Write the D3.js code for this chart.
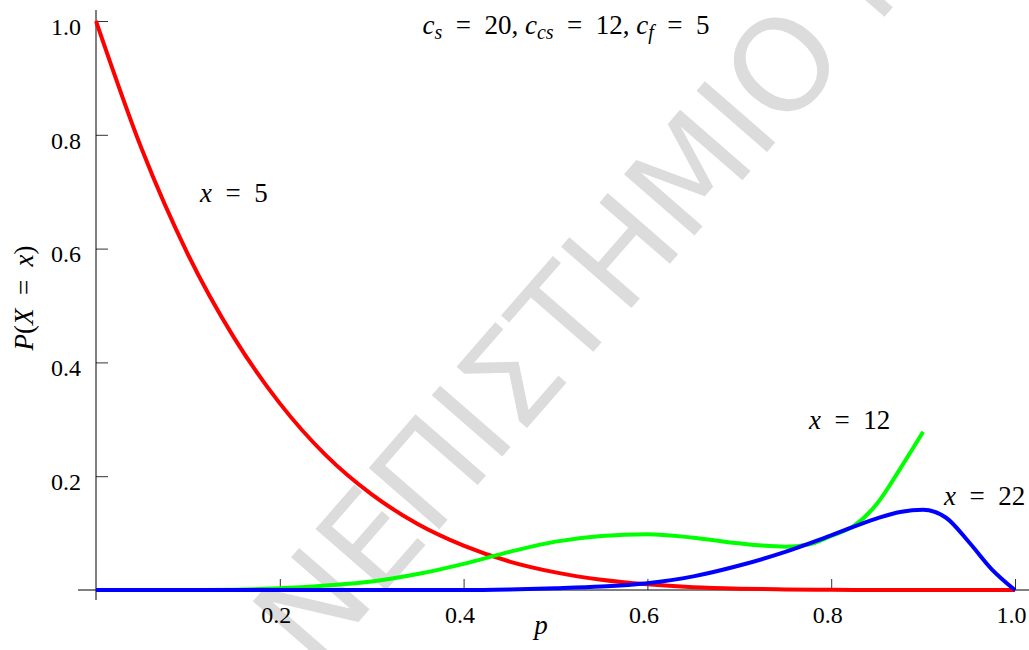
<!DOCTYPE html>
<html>
<head>
<meta charset="utf-8">
<script src="https://d3js.org/d3.v7.min.js"></script>
<style>
  body { margin: 0; background: #fff; }
  svg { display: block; }
</style>
</head>
<body>
<div id="chartHere"></div>
<script>

// values, p step 0.05 unless noted
var p_red   = [0,0.05,0.1,0.15,0.2,0.25,0.3,0.35,0.4,0.45,0.5,0.55,0.6,0.65,0.7,0.75,0.8,0.85,0.9,0.95,1.0];
var red     = [1.0,0.774,0.59,0.444,0.328,0.237,0.168,0.116,0.078,0.05,0.031,0.018,0.01,0.005,0.0024,0.001,0.0003,0.0001,0,0,0];

var p_green = [0,0.05,0.1,0.15,0.2,0.25,0.3,0.35,0.4,0.45,0.5,0.55,0.6,0.65,0.7,0.725,0.75,0.775,0.8,0.825,0.85,0.875,0.9];
var green   = [0,0,0,0.0005,0.003,0.008,0.015,0.028,0.046,0.067,0.085,0.095,0.098,0.092,0.082,0.078,0.076,0.08,0.095,0.113,0.152,0.213,0.278];

var p_blue  = [0,0.1,0.2,0.3,0.4,0.45,0.5,0.55,0.6,0.65,0.7,0.75,0.8,0.85,0.875,0.9,0.925,0.95,0.975,1.0];
var blue    = [0,0,0,0,0,0.001,0.003,0.006,0.012,0.024,0.043,0.067,0.096,0.126,0.137,0.141,0.127,0.084,0.036,0];

var xMajor = [0.2,0.4,0.6,0.8,1.0];
var yMajor = [0.2,0.4,0.6,0.8,1.0];

dims = {"width": 1029, "height": 650};
var serif = "Liberation Serif, Times New Roman, serif";

var svg = d3.select("#chartHere").append("svg")
    .attr("width", dims.width)
    .attr("height", dims.height);

var x = d3.scaleLinear().domain([0, 1]).range([96, 1015]);
var y = d3.scaleLinear().domain([0, 1]).range([590, 21]);

// watermark
svg.append("text")
    .attr("transform", "translate(315,672) rotate(-49)")
    .attr("font-family", "DejaVu Sans, sans-serif")
    .attr("font-size", 128)
    .attr("fill", "#dcdcdc")
    .text("ΝΕΠΙΣΤΗΜΙΟ ΠΕ");

var minor = d3.range(1, 21).map(function(i) { return i * 0.05; })
    .filter(function(v) { return Math.abs(v * 5 - Math.round(v * 5)) > 1e-6; });

// x axis
var gx = svg.append("g").attr("transform", "translate(0," + y(0) + ")");
gx.call(d3.axisBottom(x).tickValues(minor).tickSize(-6).tickFormat(""));
gx.call(d3.axisBottom(x).tickValues(xMajor).tickSize(-11).tickPadding(16).tickFormat(d3.format(".1f")));
gx.selectAll(".domain").remove();
gx.selectAll(".tick line").attr("stroke", "#333");
gx.selectAll(".tick text").attr("dx", "-4");
svg.append("line").attr("x1", 78).attr("x2", dims.width).attr("y1", y(0)).attr("y2", y(0)).attr("stroke", "#000");

// y axis
var gy = svg.append("g").attr("transform", "translate(" + x(0) + ",0)");
gy.call(d3.axisLeft(y).tickValues(minor).tickSize(-6).tickFormat(""));
gy.call(d3.axisLeft(y).tickValues(yMajor).tickSize(-12).tickPadding(15).tickFormat(d3.format(".1f")));
gy.selectAll(".domain").remove();
gy.selectAll(".tick line").attr("stroke", "#333");
gy.selectAll(".tick text").attr("dy", "0.55em");
svg.append("line").attr("x1", x(0)).attr("x2", x(0)).attr("y1", 10).attr("y2", 600).attr("stroke", "#000");

svg.selectAll(".tick text")
    .attr("font-family", serif)
    .attr("font-size", 24)
    .attr("fill", "#000");

// curves
var line = d3.line()
    .x(function(d) { return x(d[0]); })
    .y(function(d) { return y(d[1]); })
    .curve(d3.curveMonotoneX);

var series = [
  { p: p_red,   v: red,   color: "#ff0000" },
  { p: p_green, v: green, color: "#00ff00" },
  { p: p_blue,  v: blue,  color: "#0000ff" }
];

series.forEach(function(s) {
  svg.append("path")
      .datum(s.p.map(function(pp, i) { return [pp, s.v[i]]; }))
      .attr("d", line)
      .attr("fill", "none")
      .attr("stroke", s.color)
      .attr("stroke-width", 4);
});

// labels (math style: italic variables, wide spacing round "=")
var EQ = "\u2002=\u2002";
function mathText(xp, yp, parts, anchor) {
  var t = svg.append("text")
      .attr("font-family", serif)
      .attr("font-size", 27)
      .attr("x", xp).attr("y", yp)
      .attr("text-anchor", anchor || "start");
  parts.forEach(function(p) {
    var ts = t.append("tspan").text(p[0]);
    if (p[1] == "i") ts.attr("font-style", "italic");
    if (p[2]) ts.attr("baseline-shift", "-5").attr("font-size", 20);
  });
  return t;
}

mathText(566, 34, [["c","i"],["s","i",1],[EQ + "20, "],["c","i"],["cs","i",1],[EQ + "12, "],["c","i"],["f","i",1],[EQ + "5"]], "middle");
mathText(200, 202, [["x","i"],[EQ + "5"]]);
mathText(809, 429, [["x","i"],[EQ + "12"]]);
mathText(944, 505, [["x","i"],[EQ + "22"]]);

mathText(541, 634, [["p","i"]], "middle");

mathText(0, 0, [["P","i"],["("],["X","i"],[EQ],["x","i"],[")"]], "middle")
    .attr("transform", "translate(33,298) rotate(-90)");

</script>
</body>
</html>
